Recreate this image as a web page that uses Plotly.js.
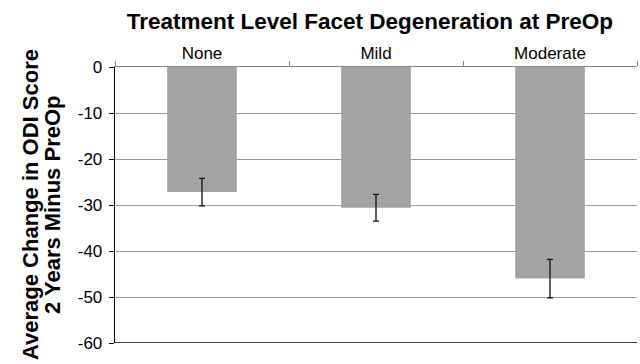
<!DOCTYPE html>
<html>
<head>
<meta charset="utf-8">
<script src="https://cdn.plot.ly/plotly-3.0.1.min.js"></script>
<style>html,body{margin:0;padding:0;background:#fff;}#chart{width:640px;height:364px;}</style>
</head>
<body>
<div id="chart"></div>
<script>
var categories = ["None", "Mild", "Moderate"];
var meanChange = [-27.2, -30.6, -46.0];
var errorHalf = [3.0, 2.9, 4.2];
var yTicks = [0, -10, -20, -30, -40, -50, -60];
var yTitleLines = ["Average Change in ODI Score", "2 Years Minus PreOp"];

var trace = {
  type: 'bar',
  x: categories,
  y: meanChange,
  marker: {color: '#a3a3a3'},
  error_y: {type: 'data', array: errorHalf, visible: true, color: '#111', thickness: 1.3, width: 3},
  width: 0.4,
  hoverinfo: 'none'
};

var layout = {
  width: 640, height: 364,
  margin: {l: 115, r: 3, t: 67, b: 21},
  paper_bgcolor: '#fff', plot_bgcolor: '#fff',
  font: {family: 'Liberation Sans, Arial, sans-serif', color: '#000'},
  title: {text: '<b>Treatment Level Facet Degeneration at PreOp</b>', font: {size: 22.5, color: '#000'}, x: 0.578, xanchor: 'center', y: 0.943, yanchor: 'middle'},
  showlegend: false,
  xaxis: {
    side: 'top', type: 'category', showline: true, linecolor: '#888', linewidth: 1,
    ticks: 'outside', tickson: 'boundaries', ticklen: 5, tickcolor: '#888',
    tickfont: {size: 17, color: '#000'}, showgrid: false, zeroline: false, fixedrange: true
  },
  yaxis: {
    range: [-60, 0], tickvals: yTicks, ticktext: yTicks.map(String),
    showline: true, linecolor: '#000', linewidth: 1.3, ticks: 'outside', ticklen: 5, tickcolor: '#000',
    ticklabelstandoff: 3,
    tickfont: {size: 17, color: '#000'}, showgrid: true, gridcolor: '#999', gridwidth: 1, zeroline: false
  },
  annotations: [
    {text: '<b>' + yTitleLines[0] + '</b>', xref: 'paper', yref: 'paper', x: 0, y: 0.5, xanchor: 'center', yanchor: 'middle', xshift: -85, textangle: -90, showarrow: false, font: {size: 22, color: '#000'}},
    {text: '<b>' + yTitleLines[1] + '</b>', xref: 'paper', yref: 'paper', x: 0, y: 0.5, xanchor: 'center', yanchor: 'middle', xshift: -63, textangle: -90, showarrow: false, font: {size: 22, color: '#000'}}
  ],
  shapes: [{type: 'line', xref: 'paper', yref: 'y', x0: 0, x1: 1, y0: -60, y1: -60, line: {color: '#000', width: 1.3}}]
};

Plotly.newPlot('chart', [trace], layout, {staticPlot: true, displayModeBar: false});
</script>
</body>
</html>
